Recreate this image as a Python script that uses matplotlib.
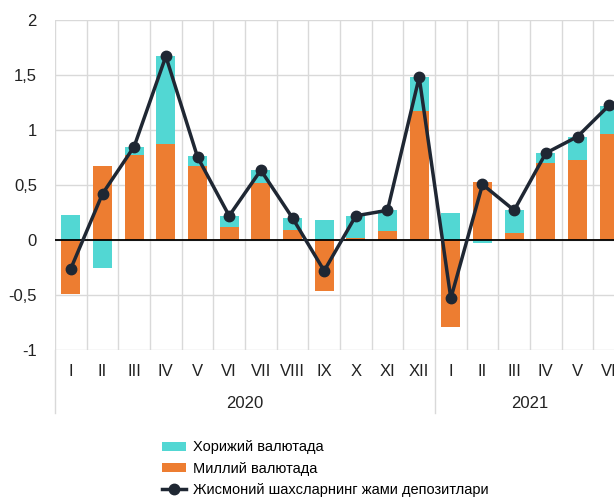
import matplotlib
matplotlib.use('Agg')
import matplotlib.pyplot as plt
import numpy as np

plt.rcParams['font.family'] = ['Liberation Sans', 'DejaVu Sans']

# Данные (трлн сум)
months = ['I', 'II', 'III', 'IV', 'V', 'VI', 'VII', 'VIII', 'IX', 'X', 'XI', 'XII',
          'I', 'II', 'III', 'IV', 'V', 'VI']
years = ['2020', '2021']
year_sizes = [12, 6]
national = [-0.49, 0.67, 0.77, 0.87, 0.67, 0.12, 0.52, 0.09, -0.46, 0.02, 0.08, 1.17,
            -0.79, 0.53, 0.06, 0.70, 0.73, 0.96]
foreign = [0.23, -0.25, 0.08, 0.80, 0.09, 0.10, 0.12, 0.11, 0.18, 0.20, 0.19, 0.31,
           0.25, -0.03, 0.21, 0.09, 0.21, 0.26]
total = [-0.26, 0.42, 0.85, 1.67, 0.755, 0.22, 0.635, 0.20, -0.28, 0.22, 0.27, 1.48,
         -0.53, 0.505, 0.27, 0.79, 0.94, 1.225]

c_foreign = '#52d7d3'
c_nat = '#ed7d31'
c_line = '#1f2733'

x = np.arange(len(months))
nat = np.array(national)
frg = np.array(foreign)
bottom_frg = np.where(np.sign(nat) == np.sign(frg), nat, 0)

fig = plt.figure(figsize=(6.14, 4.97), dpi=100)
ax = fig.add_axes([55 / 614, 1 - 350 / 497, 570 / 614, 330 / 497])

b_nat = ax.bar(x, nat, width=0.6, color=c_nat, label='Миллий валютада', zorder=2)
b_frg = ax.bar(x, frg, width=0.6, bottom=bottom_frg, color=c_foreign,
               label='Хорижий валютада', zorder=2)
ax.axhline(0, color='black', lw=1.3, zorder=3)
ln, = ax.plot(x, total, color=c_line, lw=2.5, marker='o', ms=7.5,
              label='Жисмоний шахсларнинг жами депозитлари', zorder=4)

ax.set_xlim(-0.5, len(months) - 0.5)
ax.set_ylim(-1, 2)
ax.set_yticks([-1, -0.5, 0, 0.5, 1, 1.5, 2])
ax.set_yticklabels(['-1', '-0,5', '0', '0,5', '1', '1,5', '2'])
ax.set_xticks(x)
ax.set_xticklabels(months)
ax.set_xticks(np.arange(-0.5, len(months), 1), minor=True)
ax.tick_params(axis='both', which='both', length=0, labelsize=12, colors='#222222')
ax.tick_params(axis='x', pad=10)
ax.tick_params(axis='y', pad=13)
ax.grid(axis='y', which='major', color='#d9d9d9', lw=1, zorder=0)
ax.grid(axis='x', which='minor', color='#d9d9d9', lw=1, zorder=0)
for s in ax.spines.values():
    s.set_visible(False)

# подписи годов и разделители
trans = ax.get_xaxis_transform()
start = 0
for yr, n in zip(years, year_sizes):
    ax.plot([start - 0.5, start - 0.5], [0, -63 / 330], transform=trans,
            color='#d9d9d9', lw=1, clip_on=False)
    ax.text(start + (n - 1) / 2, -53 / 330, yr, transform=trans, ha='center',
            va='center', fontsize=12, color='#222222')
    start += n

fig.legend([b_frg, b_nat, ln], [b_frg.get_label(), b_nat.get_label(), ln.get_label()],
           loc='upper left', bbox_to_anchor=(155 / 614, 1 - 433 / 497),
           frameon=False, fontsize=10.5, handlelength=1.6, handleheight=0.6,
           labelspacing=0.5, handletextpad=0.5, borderpad=0)

fig.savefig('out.png', dpi=100)
